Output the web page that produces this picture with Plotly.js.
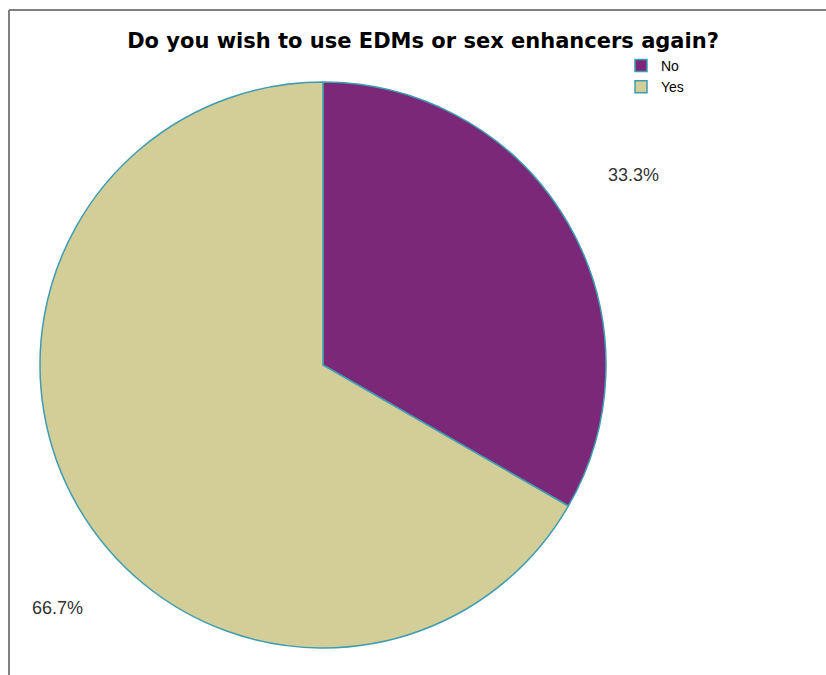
<!DOCTYPE html>
<html>
<head>
<meta charset="utf-8">
<script src="https://cdn.plot.ly/plotly-3.0.1.min.js"></script>
<style>html,body{margin:0;padding:0;background:#fff;}#chart{width:826px;height:675px;}</style>
</head>
<body>
<div id="chart"></div>
<script>
const chartTitle = "Do you wish to use EDMs or sex enhancers again?";
const categories = ["No", "Yes"];
const values = [33.3, 66.7];
const sliceColors = ["#7B2878", "#D3CE98"];

const W = 826, H = 675;
const px = (x) => x / W;
const py = (y) => 1 - y / H;

// Pie geometry (pixels)
const cx = 323, cy = 365, r = 283;

const total = values.reduce((a, b) => a + b, 0);
const pctText = values.map(v => (v / total * 100).toFixed(1) + "%");

const trace = {
  type: "pie",
  labels: categories,
  values: values,
  sort: false,
  direction: "clockwise",
  rotation: 0,
  textinfo: "none",
  hoverinfo: "label+percent",
  marker: { colors: sliceColors, line: { color: "#3E9CB2", width: 1.5 } },
  domain: { x: [px(cx - r), px(cx + r)], y: [py(cy + r), py(cy - r)] }
};

const labelPos = [[633, 175], [57, 608]];
const annotations = pctText.map((t, i) => ({
  text: t, xref: "paper", yref: "paper",
  x: px(labelPos[i][0]), y: py(labelPos[i][1]),
  xanchor: "center", yanchor: "middle", showarrow: false,
  font: { family: "Liberation Sans, Arial, sans-serif", size: 18, color: "#333333" }
}));

const layout = {
  width: W, height: H,
  margin: { l: 0, r: 0, t: 0, b: 0 },
  paper_bgcolor: "#ffffff",
  title: {
    text: "<b>" + chartTitle + "</b>",
    x: px(423), xanchor: "center",
    y: py(41), yanchor: "middle", yref: "paper",
    font: { family: "DejaVu Sans, Verdana, sans-serif", size: 21, color: "#000000" }
  },
  showlegend: true,
  legend: {
    x: px(621), y: py(50), xanchor: "left", yanchor: "top",
    font: { family: "Liberation Sans, Arial, sans-serif", size: 14, color: "#000000" },
    bgcolor: "rgba(0,0,0,0)", itemwidth: 30, tracegroupgap: 0
  },
  annotations: annotations,
  shapes: [
    { type: "line", xref: "paper", yref: "paper", x0: px(9), x1: 1, y0: py(10), y1: py(10), line: { color: "#808080", width: 2 } },
    { type: "line", xref: "paper", yref: "paper", x0: px(9), x1: px(9), y0: py(10), y1: 0, line: { color: "#808080", width: 2 } }
  ]
};

Plotly.newPlot("chart", [trace], layout, { displayModeBar: false, staticPlot: true });
</script>
</body>
</html>
